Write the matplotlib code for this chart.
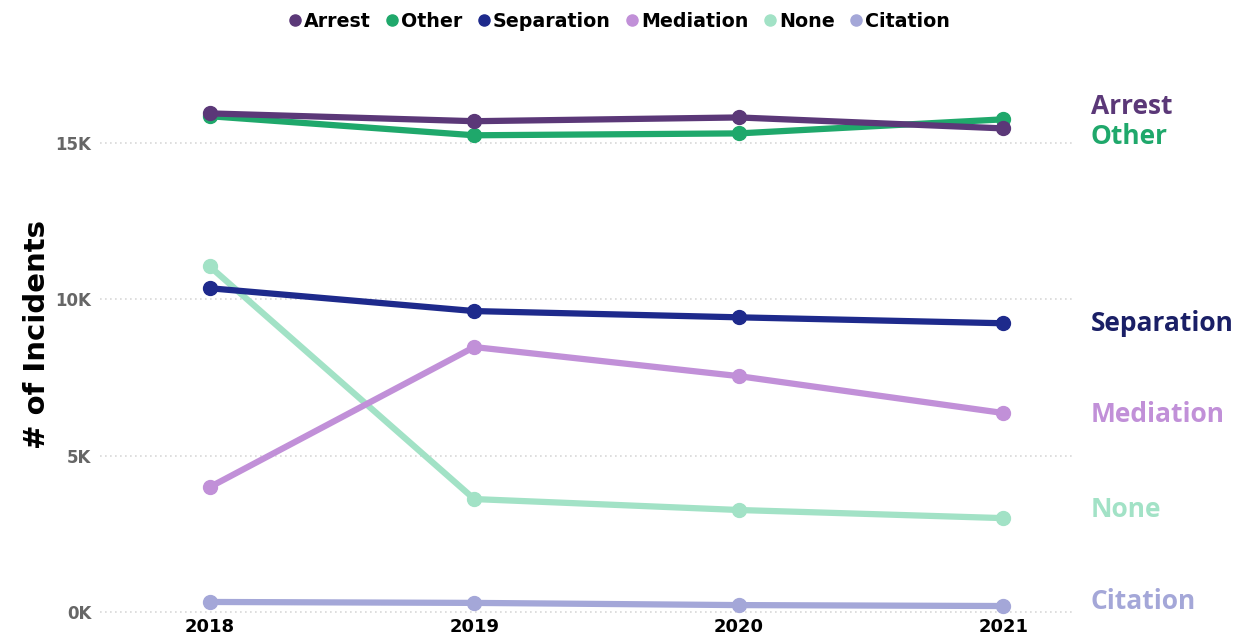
import matplotlib.pyplot as plt
from matplotlib.lines import Line2D

years = [2018, 2019, 2020, 2021]
names = ["Arrest", "Other", "Separation", "Mediation", "None", "Citation"]
# values in thousands of incidents
arrest = [15.94, 15.69, 15.81, 15.46]
other = [15.85, 15.24, 15.30, 15.75]
separation = [10.35, 9.62, 9.42, 9.23]
mediation = [3.99, 8.47, 7.54, 6.36]
none_ = [11.05, 3.61, 3.26, 3.00]
citation = [0.32, 0.29, 0.22, 0.19]
series = [arrest, other, separation, mediation, none_, citation]

colors = ["#5b3878", "#1fa86b", "#1e2a8c", "#c190d8", "#a2e2c6", "#a4a7d8"]
label_colors = ["#5b3878", "#1fa86b", "#1a1f66", "#c190d8", "#a2e2c6", "#a4a7d8"]
label_nudge = [0.70, -0.55, 0.0, -0.05, 0.28, 0.15]

fig = plt.figure(figsize=(12.48, 6.39), dpi=100)
ax = fig.add_axes([0.08, 0.0376, 0.78, 0.853])

# draw bottom series first so Arrest/Other sit on top
for s, c in list(zip(series, colors))[::-1]:
    ax.plot(years, s, color=c, lw=4.5, marker="o", ms=10, solid_capstyle="round")

for name, s, c, dy in zip(names, series, label_colors, label_nudge):
    ax.text(2021.33, s[-1] + dy, name, color=c, fontsize=19, fontweight="bold",
            family="Open Sans", va="center", ha="left", clip_on=False)

ax.set_xlim(2017.585, 2021.264)
ax.set_ylim(-0.096, 17.33)
ax.set_xticks(years)
ax.set_xticklabels([str(y) for y in years], fontsize=13, fontweight="bold")
ax.set_yticks([0, 5, 10, 15])
ax.set_yticklabels(["0K", "5K", "10K", "15K"], fontsize=12, fontweight="bold", color="#666666")
ax.tick_params(length=0)
ax.tick_params(axis="x", pad=2)
ax.tick_params(axis="y", pad=6)
ax.grid(axis="y", linestyle=(0, (1, 2)), color="#d8d8d8", lw=1.2)
ax.set_axisbelow(True)
for sp in ax.spines.values():
    sp.set_visible(False)
ax.set_ylabel("# of Incidents", fontsize=21, fontweight="bold")
ax.yaxis.set_label_coords(-0.05, 0.514)

handles = [Line2D([], [], color=c, marker="o", ls="", ms=8) for c in colors]
fig.legend(handles, names, loc="upper center", bbox_to_anchor=(0.495, 1.008), ncol=6,
           frameon=False, handletextpad=0.0, columnspacing=0.6, handlelength=1.0,
           prop={"weight": "bold", "size": 13.7})

fig.savefig("out.png", dpi=100)
